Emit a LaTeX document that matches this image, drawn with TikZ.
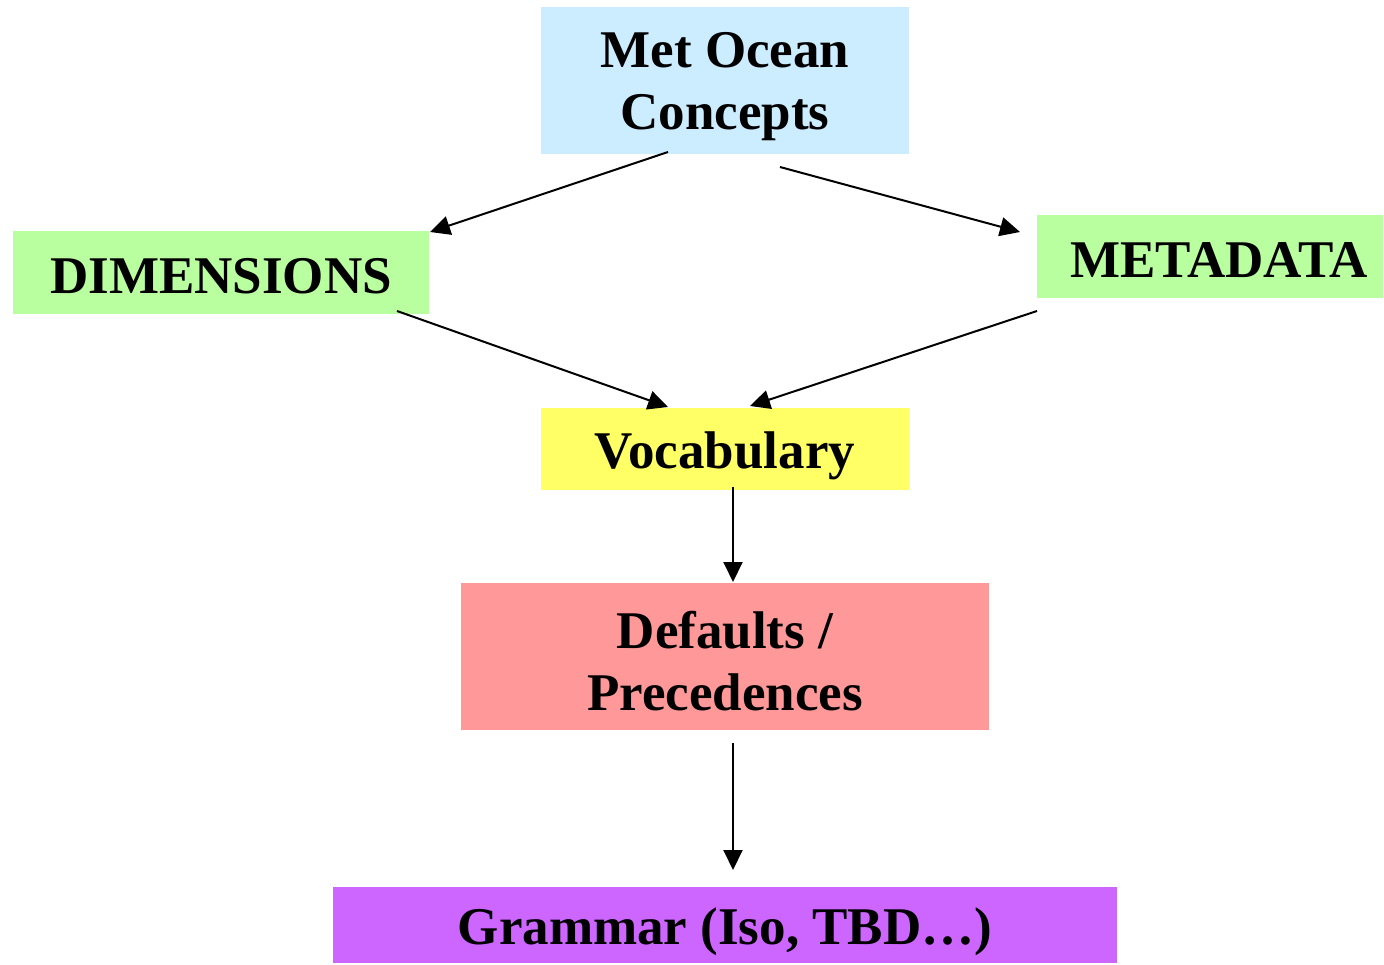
\documentclass[tikz,border=0pt]{standalone}
\usepackage{fontspec}
\setmainfont{Liberation Serif}
\usetikzlibrary{arrows.meta}
\definecolor{cblue}{RGB}{204,236,255}
\definecolor{cgreen}{RGB}{185,255,160}
\definecolor{cyellow}{RGB}{255,255,102}
\definecolor{cpink}{RGB}{255,153,153}
\definecolor{cpurple}{RGB}{204,102,255}
\tikzset{
  box/.style={inner sep=0pt, outer sep=0pt, anchor=center},
  txt/.style={inner sep=0pt, outer sep=0pt, align=center, anchor=center,
    font=\fontsize{53}{62}\selectfont\bfseries},
  arr/.style={line width=2pt, -{Triangle[length=20pt,width=19pt]}}
}
\begin{document}
\begin{tikzpicture}[x=1pt,y=-1pt]
\useasboundingbox (0,0) rectangle (1384,965);
\node[box, fill=cblue, minimum width=368pt, minimum height=147pt] (moc) at (725,80.5) {};
\node[txt] (mocT) at (725,87) {Met Ocean\\Concepts};
\node[box, fill=cgreen, minimum width=416pt, minimum height=83pt] (dim) at (221,272.5) {};
\node[txt] (dimT) at (221,276) {DIMENSIONS};
\node[box, fill=cgreen, minimum width=346pt, minimum height=83pt] (meta) at (1210,256.5) {};
\node[txt] (metaT) at (1219,260) {METADATA};
\node[box, fill=cyellow, minimum width=368pt, minimum height=82pt] (voc) at (725,449) {};
\node[txt] (vocT) at (725,456) {Vocabulary};
\node[box, fill=cpink, minimum width=528pt, minimum height=147pt] (def) at (725,656.5) {};
\node[txt] (defT) at (725,661) {Defaults /\\Precedences};
\node[box, fill=cpurple, minimum width=784pt, minimum height=76pt] (gra) at (725,925) {};
\node[txt] (graT) at (725,932) {Grammar (Iso, TBD\ldots)};
% connector end points
\coordinate (mocA) at (668,152);
\coordinate (dimIn) at (430,232);
\coordinate (mocB) at (780,167);
\coordinate (metaIn) at (1020,232);
\coordinate (dimOut) at (397,311);
\coordinate (vocL) at (668,407);
\coordinate (metaOut) at (1037,311);
\coordinate (vocR) at (750,406);
\coordinate (vocOut) at (733,487);
\coordinate (defIn) at (733,582);
\coordinate (defOut) at (733,743);
\coordinate (graIn) at (733,870);
\draw[arr] (mocA) -- (dimIn);
\draw[arr] (mocB) -- (metaIn);
\draw[arr] (dimOut) -- (vocL);
\draw[arr] (metaOut) -- (vocR);
\draw[arr] (vocOut) -- (defIn);
\draw[arr] (defOut) -- (graIn);
\end{tikzpicture}
\end{document}
